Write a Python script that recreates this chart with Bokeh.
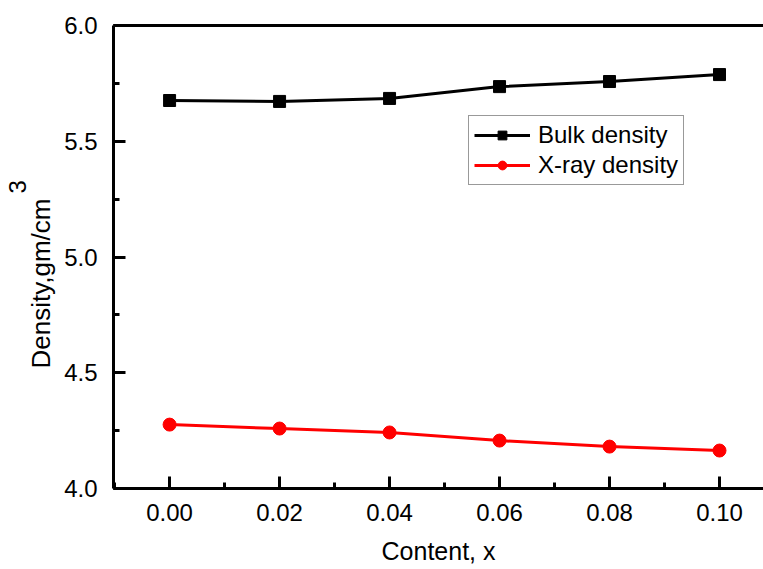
from bokeh.plotting import figure
from bokeh.models import (Range1d, SingleIntervalTicker, FixedTicker, PrintfTickFormatter,
                          LinearAxis, Legend, Title)
from bokeh.embed import file_html
from bokeh.resources import INLINE

content = [0.00, 0.02, 0.04, 0.06, 0.08, 0.10]
bulk_density = [5.676, 5.672, 5.685, 5.736, 5.758, 5.788]
xray_density = [4.276, 4.259, 4.242, 4.207, 4.181, 4.164]

FONT = "Liberation Sans"

p = figure(width=763, height=569, output_backend="svg", toolbar_location=None,
           x_range=Range1d(-0.0102, 0.1080), y_range=Range1d(4.0, 6.0),
           min_border_left=113, min_border_right=0, min_border_top=25, min_border_bottom=81,
           background_fill_color="white", border_fill_color="white")
p.outline_line_color = None
p.grid.visible = False

p.xaxis.ticker = SingleIntervalTicker(interval=0.02, num_minor_ticks=2)
p.yaxis.ticker = SingleIntervalTicker(interval=0.5, num_minor_ticks=2)
p.xaxis.formatter = PrintfTickFormatter(format="%.2f")
p.yaxis.formatter = PrintfTickFormatter(format="%.1f")

for ax in (p.xaxis[0], p.yaxis[0]):
    ax.axis_line_width = 3
    ax.axis_line_color = "black"
    ax.major_tick_line_width = 3
    ax.minor_tick_line_width = 3
    ax.major_tick_line_color = "black"
    ax.minor_tick_line_color = "black"
    ax.major_tick_in = 12
    ax.major_tick_out = 0
    ax.minor_tick_in = 6
    ax.minor_tick_out = 0
    ax.major_label_text_font = FONT
    ax.major_label_text_font_size = "24px"
    ax.major_label_text_color = "black"

p.xaxis.major_label_standoff = 15
p.yaxis.major_label_standoff = 16
p.xaxis.axis_label = "Content, x"
p.xaxis.axis_label_text_font = FONT
p.xaxis.axis_label_text_font_size = "25px"
p.xaxis.axis_label_text_font_style = "normal"
p.xaxis.axis_label_text_color = "black"
p.xaxis.axis_label_standoff = 13

# top border line
top = LinearAxis(axis_line_width=3, axis_line_color="black", ticker=FixedTicker(ticks=[]),
                 major_tick_in=0, major_tick_out=0, minor_tick_in=0, minor_tick_out=0,
                 major_label_standoff=0)
p.add_layout(top, "above")

# y axis label with superscript
p.add_layout(Title(text="Density,gm/cm", align="left", offset=120, standoff=12,
                   text_font=FONT, text_font_size="26px", text_font_style="normal",
                   text_color="black"), "left")
p.add_layout(Title(text="3", align="left", offset=295, standoff=-16,
                   text_font=FONT, text_font_size="24px", text_font_style="normal",
                   text_color="black"), "left")

l1 = p.line(content, bulk_density, line_color="black", line_width=3)
s1 = p.scatter(content, bulk_density, marker="square", size=12, fill_color="black", line_color="black")
l2 = p.line(content, xray_density, line_color="red", line_width=3)
s2 = p.scatter(content, xray_density, marker="circle", size=13, fill_color="red", line_color="red")

legend = Legend(items=[("Bulk density", [l1, s1]), ("X-ray density", [l2, s2])],
                location=(355, 303), glyph_width=56, glyph_height=22, label_height=22,
                label_standoff=8, padding=5, spacing=2, margin=0,
                label_text_font=FONT, label_text_font_size="24px", label_text_color="black",
                border_line_color="#333333", border_line_width=1,
                background_fill_alpha=1.0)
p.add_layout(legend)

open("out.html", "w").write(file_html(p, INLINE))
